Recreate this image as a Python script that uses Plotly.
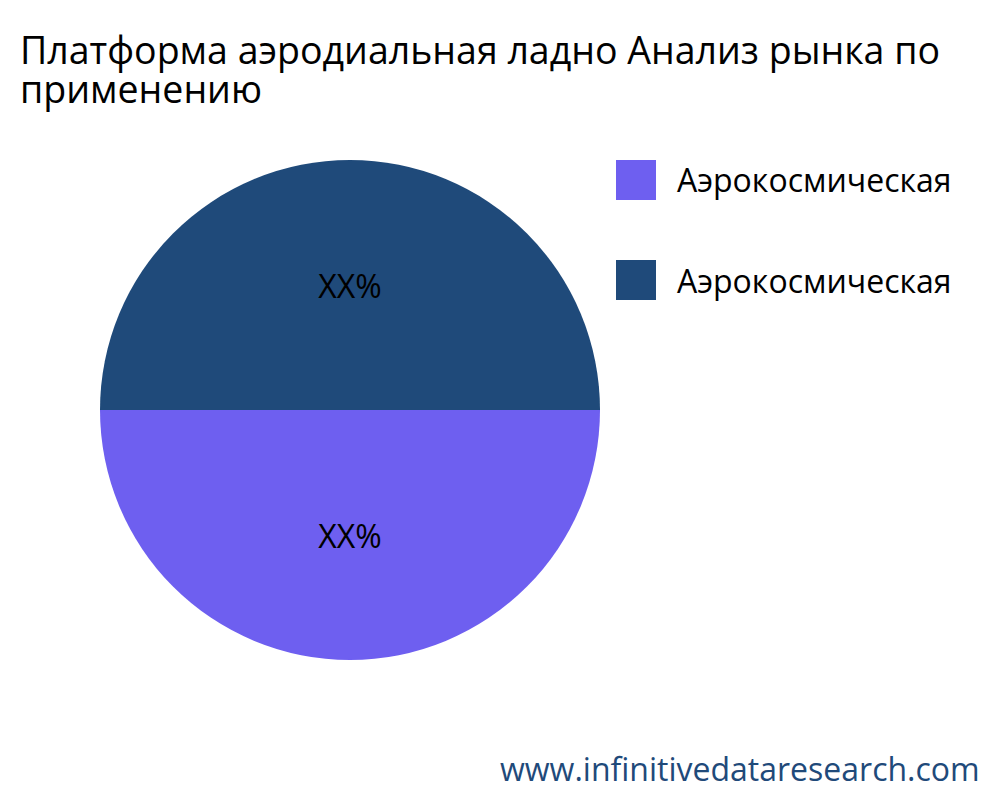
import plotly.graph_objects as go

labels = ["Аэрокосмическая", "Аэрокосмическая "]
values = [50, 50]
texts = ["XX%", "XX%"]
colors = ["#6e5ff0", "#1f4a7a"]

title_lines = ["Платформа аэродиальная ладно Анализ рынка по", "применению"]
source = "www.infinitivedataresearch.com"

# page body adds ~8px offset, so positions are shifted back by that much
dx = 0.008
dy = 0.01

fig = go.Figure(go.Pie(labels=labels,
                       values=values,
                       text=texts,
                       textinfo="text",
                       textposition="inside",
                       insidetextorientation="horizontal",
                       textfont=dict(size=32, color="black", family="Open Sans"),
                       marker=dict(colors=colors),
                       rotation=90,
                       sort=False,
                       domain=dict(x=[0.1 - dx, 0.6 - dx], y=[0.175 + dy, 0.8 + dy]),
                       showlegend=False))

# legend drawn by hand so the swatches can be large
shapes = []
annotations = []
for i, lab in enumerate(labels):
    y0 = 1 - (160 + i * 100) / 800 + dy
    shapes.append(dict(type="rect", xref="paper", yref="paper",
                       x0=0.616 - dx, x1=0.656 - dx, y0=y0 - 0.05, y1=y0,
                       fillcolor=colors[i], line=dict(width=0)))
    annotations.append(dict(text=lab.strip(), xref="paper", yref="paper",
                            x=0.675 - dx, y=y0 - 0.025, xanchor="left", yanchor="middle",
                            showarrow=False,
                            font=dict(size=32, color="black", family="Open Sans")))

for i, line in enumerate(title_lines):
    annotations.append(dict(text=line, xref="paper", yref="paper",
                            x=0.018 - dx, y=1 - (49 + i * 40) / 800 + dy,
                            xanchor="left", yanchor="middle", showarrow=False,
                            font=dict(size=37.5, color="black", family="Open Sans")))

annotations.append(dict(text=source, xref="paper", yref="paper",
                        x=0.982 - dx, y=1 - 768 / 800 + dy, xanchor="right", yanchor="middle",
                        showarrow=False,
                        font=dict(size=32, color="#1f4a7a", family="Open Sans")))

fig.update_layout(width=1000, height=800,
                  margin=dict(l=0, r=0, t=0, b=0),
                  paper_bgcolor="white",
                  plot_bgcolor="white",
                  shapes=shapes,
                  annotations=annotations)

fig.write_html("out.html")
